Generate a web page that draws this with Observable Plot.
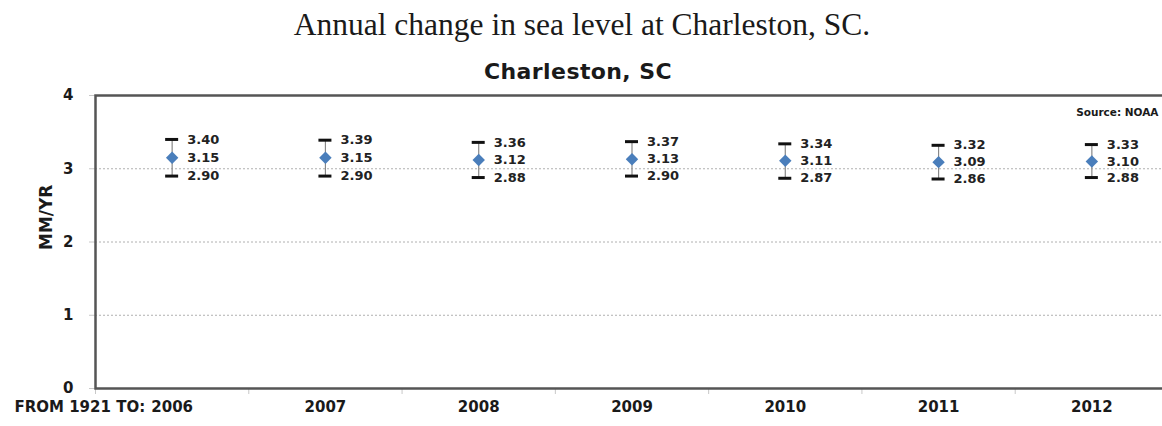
<!DOCTYPE html>
<html><head><meta charset="utf-8">
<script src="https://cdn.jsdelivr.net/npm/d3@7"></script>
<script src="https://cdn.jsdelivr.net/npm/@observablehq/plot@0.6"></script>
<style>
html,body{margin:0;padding:0;background:#fff;overflow:hidden;}
#title{height:50px;font-family:"Liberation Serif","Times New Roman",serif;font-size:31.5px;line-height:50px;text-align:center;color:#1a1a1a;white-space:nowrap;padding-left:2px;}
#sub{margin-top:7px;height:30px;font-family:"DejaVu Sans",sans-serif;font-weight:bold;font-size:22px;letter-spacing:0.4px;line-height:30px;text-align:center;color:#1a1a1a;padding-right:6px;white-space:nowrap;}
#chart{height:339px;}
</style></head><body>
<div id="title">Annual change in sea level at Charleston, SC.</div>
<div id="sub">Charleston, SC</div>
<div id="chart"></div>
<script>
const years = ["2006","2007","2008","2009","2010","2011","2012"];
const trend = [3.15,3.15,3.12,3.13,3.11,3.09,3.10];
const upper = [3.40,3.39,3.36,3.37,3.34,3.32,3.33];
const lower = [2.90,2.90,2.88,2.90,2.87,2.86,2.88];
const yTicks = [0,1,2,3,4];
const gridTicks = [1,2,3];
const firstPrefix = "FROM 1921 TO:";
const yLabel = "MM/YR";
const sourceNote = "Source: NOAA";

const data = years.map((year,i)=>({year, pos:i+0.5, trend:trend[i], upper:upper[i], lower:lower[i]}));
const font = "'DejaVu Sans', sans-serif";
const txt = "#1a1a1a";

const chart = Plot.plot({
  width: 1168, height: 339,
  marginLeft: 95, marginRight: 0, marginTop: 8, marginBottom: 38,
  style: {maxWidth: "none", overflow: "visible", fontFamily: font, background: "#fff"},
  x: {domain: [0, years.length], axis: null},
  y: {domain: [0, 4], axis: null},
  marks: [
    Plot.ruleY(gridTicks, {stroke: "#b0b0b0", strokeDasharray: "2,2", strokeWidth: 1}),
    Plot.axisY(yTicks, {tickSize: 6, tickPadding: 16, tickFormat: d => String(d), stroke: "#c8c8c8", fill: txt, fontSize: 15, fontWeight: "bold", label: null}),
    Plot.axisX(d3.range(years.length + 1), {tickSize: 6, stroke: "#c8c8c8", tickFormat: () => "", label: null}),
    Plot.axisX(data.map(d => d.pos), {tickSize: 0, tickPadding: 13, tickFormat: d => years[Math.floor(d)], fontSize: 15, fontWeight: "bold", fill: txt, label: null}),
    Plot.text([firstPrefix], {x: () => data[0].pos, frameAnchor: "bottom", lineAnchor: "top", dy: 13, dx: -27, textAnchor: "end", fontSize: 15, fontWeight: "bold", fill: txt}),
    Plot.frame({stroke: "#555", strokeWidth: 2.5}),
    Plot.text([yLabel], {frameAnchor: "left", rotate: -90, dx: -49, dy: 8, fontSize: 17, fontWeight: "bold", fill: txt}),
    Plot.text([sourceNote], {frameAnchor: "top-right", dx: -10, dy: 13, textAnchor: "end", fontSize: 10.5, fontWeight: "bold", fill: txt}),
    Plot.ruleX(data, {x: "pos", y1: "lower", y2: "upper", stroke: "#888", strokeWidth: 1.2}),
    Plot.ruleY(data, {x1: "pos", x2: "pos", y: "upper", insetLeft: -6.5, insetRight: -6.5, stroke: "#111", strokeWidth: 3}),
    Plot.ruleY(data, {x1: "pos", x2: "pos", y: "lower", insetLeft: -6.5, insetRight: -6.5, stroke: "#111", strokeWidth: 3}),
    Plot.dot(data, {x: "pos", y: "trend", symbol: "diamond2", r: 5.6, fill: "#4a7ebb", stroke: "none"}),
    Plot.text(data, {x: "pos", y: "upper", text: d => d.upper.toFixed(2), dx: 15, textAnchor: "start", fontSize: 13, fontWeight: "bold", fill: "#222"}),
    Plot.text(data, {x: "pos", y: "trend", text: d => d.trend.toFixed(2), dx: 15, textAnchor: "start", fontSize: 13, fontWeight: "bold", fill: "#222"}),
    Plot.text(data, {x: "pos", y: "lower", text: d => d.lower.toFixed(2), dx: 15, textAnchor: "start", fontSize: 13, fontWeight: "bold", fill: "#222"})
  ]
});
document.getElementById("chart").append(chart);
</script>
</body></html>
